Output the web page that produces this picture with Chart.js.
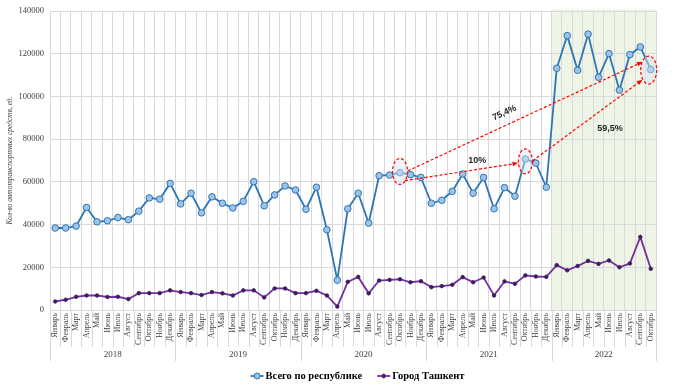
<!DOCTYPE html>
<html><head><meta charset="utf-8">
<script src="https://cdn.jsdelivr.net/npm/chart.js@4/dist/chart.umd.min.js"></script>
<style>html,body{margin:0;padding:0;background:#fff;}#wrap{width:680px;height:389px;position:relative}</style>
</head><body><div id="wrap"><canvas id="c" width="680" height="389"></canvas></div>
<script>
const years = ['2018','2019','2020','2021','2022'];
const monthNames = ['Январь','Февраль','Март','Апрель','Май','Июнь','Июль','Август','Сентябрь','Октябрь','Ноябрь','Декабрь'];
const monthsPerYear = [12,12,12,12,10];
const totalRepublic = [
  38400, 38400, 39300, 48000, 41300, 41800, 43300, 42300, 46300, 52500, 51900, 59300,
  49700, 54700, 45500, 53000, 50000, 47800, 50900, 60100, 48800, 53900, 58100, 56200,
  47200, 57500, 37600, 14000, 47400, 54700, 40700, 62900, 63200, 64300, 63400, 62100,
  50000, 51400, 55600, 63700, 54700, 62100, 47400, 57300, 53300, 70700, 68800, 57500,
  113200, 128500, 112300, 129200, 109000, 120100, 103000, 119600, 123200, 112600
];
const tashkentCity = [
  4000, 4800, 6200, 6800, 6800, 6100, 6200, 5100, 7900, 7900, 7900, 9200,
  8400, 7900, 7000, 8400, 7800, 6800, 9200, 9200, 5900, 10100, 10100, 7900,
  7900, 9000, 6800, 1600, 13200, 15500, 7800, 13800, 14100, 14400, 13000, 13500,
  10700, 11200, 11800, 15400, 13000, 15200, 6800, 13400, 12300, 16200, 15700, 15500,
  21000, 18600, 20600, 23000, 21600, 23200, 20000, 21800, 34200, 19300
];
const yMin = 0, yMax = 140000, yStep = 20000;
const seriesNames = ['Всего по республике','Город Ташкент'];
const axisTitle = 'Кол-во автотранспортных средств, ед.';
const highlightYear = '2022';
// annotations, anchored in data units: [category index, value]
const percentNotes = [
  {text:'75,4%', at:[43.0, 92300], angle:-25},
  {text:'10%',   at:[40.4, 69900], angle:0},
  {text:'59,5%', at:[53.1, 84800], angle:0}
];
const arrows = [
  {from:[33.76, 65200], to:[56.2, 116200]},
  {from:[33.47, 60600], to:[44.3, 68800]},
  {from:[45.7, 69900],  to:[56.2, 107800]}
];
const rings = [
  {at:[33, 64900],   rx:7.5, ry:13},
  {at:[45, 69600],   rx:7,   ry:12.5},
  {at:[56.8, 112400], rx:8,  ry:14}
];

const categories = [];
years.forEach((y, yi) => { for (let m = 0; m < monthsPerYear[yi]; m++) categories.push(monthNames[m]); });

const SERIF = '"Liberation Serif", "DejaVu Serif", serif';
const SANS = '"Liberation Sans", Arial, sans-serif';
const BLUE = '#2e75b6', BLUE_FILL = '#9dc3e6', PURPLE = '#7030a0', PURPLE_PT = '#3f1d5c';
const GRID = '#d9d9d9';

const deco = {
  id: 'deco',
  beforeDraw(chart) {
    const {ctx, chartArea: a, scales: {x}} = chart;
    let start = 0;
    for (let i = 0; i < years.indexOf(highlightYear); i++) start += monthsPerYear[i];
    const x0 = x.getPixelForValue(start - 0.5);
    ctx.save();
    ctx.fillStyle = '#eef4e6';
    ctx.fillRect(x0, a.top - 2, a.right - x0, a.bottom - a.top + 2);
    ctx.restore();
  },
  afterDatasetsDraw(chart) {
    const {ctx, scales: {x, y}} = chart;
    const P = p => [x.getPixelForValue(p[0]), y.getPixelForValue(p[1])];
    ctx.save();
    rings.forEach(r => {
      const [cx, cy] = P(r.at);
      ctx.beginPath();
      ctx.ellipse(cx, cy, r.rx, r.ry, 0, 0, Math.PI * 2);
      ctx.fillStyle = 'rgba(214,228,240,0.45)';
      ctx.fill();
      ctx.setLineDash([3, 2]);
      ctx.strokeStyle = '#ff0000';
      ctx.lineWidth = 1.2;
      ctx.stroke();
    });
    arrows.forEach(ar => {
      const [x1, y1] = P(ar.from), [x2, y2] = P(ar.to);
      const ang = Math.atan2(y2 - y1, x2 - x1);
      const hl = 6;
      ctx.setLineDash([3, 2]);
      ctx.strokeStyle = '#ff0000';
      ctx.lineWidth = 1.2;
      ctx.beginPath();
      ctx.moveTo(x1, y1);
      ctx.lineTo(x2 - Math.cos(ang) * hl * 0.8, y2 - Math.sin(ang) * hl * 0.8);
      ctx.stroke();
      ctx.setLineDash([]);
      ctx.fillStyle = '#ff0000';
      ctx.beginPath();
      ctx.moveTo(x2, y2);
      ctx.lineTo(x2 - hl * Math.cos(ang - 0.4), y2 - hl * Math.sin(ang - 0.4));
      ctx.lineTo(x2 - hl * Math.cos(ang + 0.4), y2 - hl * Math.sin(ang + 0.4));
      ctx.closePath();
      ctx.fill();
    });
    ctx.setLineDash([]);
    percentNotes.forEach(n => {
      const [px, py] = P(n.at);
      ctx.save();
      ctx.translate(px, py);
      ctx.rotate(n.angle * Math.PI / 180);
      ctx.font = 'bold 9px ' + SANS;
      ctx.fillStyle = '#262626';
      ctx.textAlign = 'center';
      ctx.textBaseline = 'middle';
      ctx.fillText(n.text, 0, 0);
      ctx.restore();
    });
    ctx.restore();
  },
  afterDraw(chart) {
    const {ctx, chartArea: a, scales: {x}} = chart;
    ctx.save();
    ctx.strokeStyle = GRID;
    ctx.lineWidth = 1;
    let idx = 0;
    const bounds = [0];
    monthsPerYear.forEach(n => { idx += n; bounds.push(idx); });
    for (let i = 0; i <= categories.length; i++) {
      const px = Math.round(x.getPixelForValue(i - 0.5)) + 0.5;
      const isYear = bounds.includes(i);
      ctx.beginPath();
      ctx.moveTo(px, a.bottom);
      ctx.lineTo(px, a.bottom + (isYear ? 51 : 37));
      ctx.stroke();
    }
    ctx.fillStyle = '#404040';
    ctx.font = '9px ' + SERIF;
    ctx.textAlign = 'center';
    ctx.textBaseline = 'middle';
    years.forEach((yr, i) => {
      const cx = (x.getPixelForValue(bounds[i] - 0.5) + x.getPixelForValue(bounds[i + 1] - 0.5)) / 2;
      ctx.fillText(yr, cx, a.bottom + 45);
    });
    const ly = 376;
    const items = [
      {name: seriesNames[0], color: BLUE, fill: BLUE_FILL, r: 3},
      {name: seriesNames[1], color: PURPLE, fill: PURPLE_PT, r: 2}
    ];
    ctx.font = 'bold 10.5px ' + SERIF;
    const widths = items.map(it => 16 + ctx.measureText(it.name).width);
    const gap = 14;
    let lx = 358 - (widths[0] + widths[1] + gap) / 2;
    items.forEach((it, i) => {
      ctx.strokeStyle = it.color;
      ctx.lineWidth = 1.8;
      ctx.beginPath(); ctx.moveTo(lx, ly); ctx.lineTo(lx + 13, ly); ctx.stroke();
      ctx.beginPath(); ctx.arc(lx + 6.5, ly, it.r, 0, Math.PI * 2);
      ctx.fillStyle = it.fill; ctx.fill();
      ctx.lineWidth = 1; ctx.stroke();
      ctx.fillStyle = '#000';
      ctx.textAlign = 'left';
      ctx.fillText(it.name, lx + 15, ly + 0.5);
      lx += widths[i] + gap;
    });
    ctx.restore();
  }
};

new Chart(document.getElementById('c'), {
  type: 'line',
  data: {
    labels: categories,
    datasets: [
      {label: seriesNames[0], data: totalRepublic, borderColor: BLUE, borderWidth: 1.8,
       pointRadius: 3.3, pointBackgroundColor: BLUE_FILL, pointBorderColor: BLUE, pointBorderWidth: 1,
       tension: 0, fill: false},
      {label: seriesNames[1], data: tashkentCity, borderColor: PURPLE, borderWidth: 1.8,
       pointRadius: 1.8, pointBackgroundColor: PURPLE_PT, pointBorderColor: PURPLE_PT, pointBorderWidth: 0.8,
       tension: 0, fill: false}
    ]
  },
  options: {
    responsive: false,
    animation: false,
    layout: {padding: {left: 6, right: 24, top: 10, bottom: 0}},
    plugins: {legend: {display: false}, tooltip: {enabled: false}},
    scales: {
      x: {
        offset: true,
        grid: {offset: true, color: GRID, drawTicks: false},
        border: {color: GRID},
        ticks: {autoSkip: false, maxRotation: 90, minRotation: 90, padding: 3,
                color: '#404040', font: {family: SERIF, size: 8}},
        afterFit(s) { s.height = 79; }
      },
      y: {
        min: yMin, max: yMax,
        grid: {color: GRID, drawTicks: false},
        border: {display: false},
        ticks: {stepSize: yStep, padding: 6, color: '#404040', font: {family: SERIF, size: 8.5},
                callback: v => String(v)},
        title: {display: true, text: axisTitle, color: '#404040', padding: {top: 0, bottom: 0},
                font: {family: SERIF, size: 7.5, style: 'italic'}},
        afterFit(s) { s.width = 44; }
      }
    }
  },
  plugins: [deco]
});
</script>
</body></html>
